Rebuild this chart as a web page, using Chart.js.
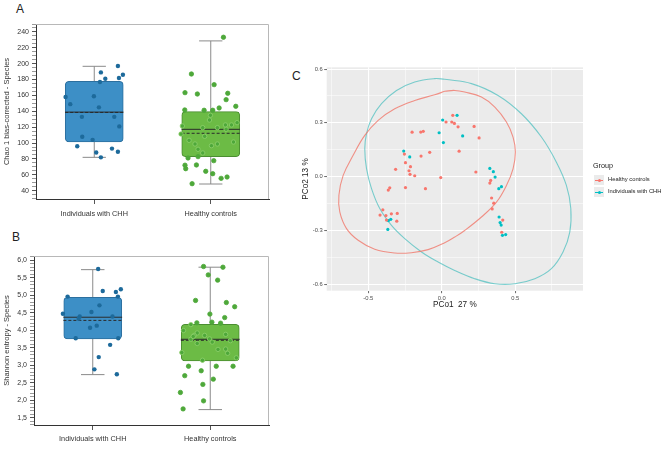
<!DOCTYPE html>
<html>
<head>
<meta charset="utf-8">
<script src="https://cdn.jsdelivr.net/npm/chart.js@4.4.0/dist/chart.umd.min.js"></script>
<style>
  body { margin: 0; width: 669px; height: 473px; position: relative; overflow: hidden; background: #fff;
         font-family: "Liberation Sans", Arial, sans-serif; color: #222; }
  canvas { position: absolute; }
  .txt { position: absolute; white-space: nowrap; line-height: 1; }
  .key { position: absolute; width: 10px; height: 10px; background: #ebebeb; }
  .key i { position: absolute; left: 1px; right: 1px; top: 4.5px; height: 1px; }
  .key b { position: absolute; left: 3.5px; top: 3.5px; width: 3px; height: 3px; border-radius: 50%; }
</style>
</head>
<body>
<div class="txt" style="left:16px;top:3px;font-size:12px">A</div>
<div class="txt" style="left:12px;top:231px;font-size:12px">B</div>
<div class="txt" style="left:292px;top:70px;font-size:12px">C</div>

<canvas id="chartA" width="290" height="235" style="left:0;top:0"></canvas>
<canvas id="chartB" width="290" height="238" style="left:0;top:235px"></canvas>
<canvas id="chartC" width="379" height="265" style="left:290px;top:55px"></canvas>

<div class="txt" style="left:593px;top:162px;font-size:7.2px">Group</div>
<div class="key" style="left:594px;top:175px"><i style="background:#F8766D"></i><b style="background:#F8766D"></b></div>
<div class="txt" style="left:608px;top:177px;font-size:5.8px">Healthy controls</div>
<div class="key" style="left:594px;top:187px"><i style="background:#00BFC4"></i><b style="background:#00BFC4"></b></div>
<div class="txt" style="left:608px;top:189px;font-size:5.8px">Individuals with CHH</div>

<script>
const groups = ["Individuals with CHH", "Healthy controls"];

// Panel A: Chao 1 bias-corrected
const chaoTicks = [40, 60, 80, 100, 120, 140, 160, 180, 200, 220, 240];
const chaoCHH = [158, 149, 133, 108, 96, 104, 88, 82, 145, 159, 177, 189, 181, 197, 186, 182, 133, 121, 93, 89];
const chaoCHHJitter = [-0.246, -0.206, -0.106, -0.103, -0.146, -0.014, 0.017, 0.057, 0.040, -0.003,
                       0.049, 0.057, 0.095, 0.203, 0.246, 0.212, 0.172, 0.215, 0.152, 0.203];
const chaoHC = [233.3, 187, 173.6, 163.5, 161.8, 162.7, 154.7, 146.3, 144.2, 141.7,
                141.3, 141.3, 135, 129, 121.5, 119.4, 119.4, 122.8, 122.8, 125.7,
                117.3, 111.4, 108.5, 103.4, 98.8, 98.8, 96.7, 101.3, 92.1, 87.5,
                81.2, 82.9, 77.8, 72.1, 72.4, 67.7, 64.4, 61.4, 57.2, 55.5, 48.8];
const chaoHCJitter = [0.109, -0.166, 0.029, -0.221, -0.115, 0.146, 0.132, 0.215, 0.072, -0.223,
                      -0.057, 0.017, -0.003, -0.011, -0.244, -0.069, 0.057, 0.126, 0.178, 0.226,
                      0.132, -0.255, -0.052, -0.186, -0.135, 0.057, 0.006, 0.195, -0.109, -0.069,
                      -0.195, -0.109, 0.026, -0.221, -0.123, -0.215, -0.043, 0.017, 0.140, 0.089, -0.160];
// whisker low, q1, median, q3, whisker high, mean
const chaoBoxCHH = [82, 101.3, 139, 177.8, 196.7, 138.5];
const chaoBoxHC = [48.4, 82.9, 117.3, 139.6, 228.7, 112.3];

// Panel B: Shannon entropy
const shanTicks = [1.5, 2.0, 2.5, 3.0, 3.5, 4.0, 4.5, 5.0, 5.5, 6.0];
const shanCHH = [4.47, 4.96, 3.77, 4.39, 4.33, 4.52, 4.07, 4.13, 4.71, 5.75,
                 2.88, 3.23, 5.12, 3.58, 4.39, 5.09, 4.96, 5.17, 3.77, 2.74];
const shanCHHJitter = [-0.254, -0.214, -0.145, -0.111, -0.120, -0.011, -0.023, 0.034, 0.057, 0.046,
                       0.014, 0.051, 0.085, 0.148, 0.168, 0.197, 0.214, 0.239, 0.217, 0.205];
const shanHC = [5.82, 5.80, 5.58, 5.43, 4.85, 4.79, 4.67, 4.46, 4.36, 4.23,
                4.21, 4.20, 4.16, 3.99, 3.92, 3.85, 3.88, 3.85, 3.74, 3.82,
                3.75, 3.66, 3.70, 3.62, 3.45, 3.46, 3.34, 3.36, 3.14, 3.21,
                2.97, 2.97, 2.97, 2.84, 2.70, 2.60, 2.45, 2.22, 1.98, 1.75];
const shanHCJitter = [-0.057, 0.108, -0.017, 0.063, -0.125, 0.137, 0.208, -0.003, 0.123, 0.014,
                      -0.114, 0.088, -0.165, -0.228, -0.111, -0.137, 0.131, -0.048, -0.165, -0.145,
                      -0.006, 0.017, 0.171, -0.111, 0.066, 0.131, 0.148, -0.242, -0.066, 0.222,
                      -0.185, 0.051, 0.194, -0.077, -0.217, 0.026, -0.063, -0.254, -0.057, -0.231];
const shanBoxCHH = [2.73, 3.75, 4.37, 4.94, 5.73, 4.28];
const shanBoxHC = [1.73, 3.12, 3.74, 4.17, 5.80, 3.71];

// Panel C: PCoA
const pcoXTicks = [-0.5, 0, 0.5];
const pcoYTicks = [-0.6, -0.3, 0, 0.3, 0.6];
const pcoHCx = [0.075, 0.029, 0.068, 0.086, 0.111, 0.220, 0.254, 0.118, -0.202, -0.143,
                -0.126, -0.141, -0.082, -0.254, -0.247, -0.314, -0.213, -0.223, -0.216, -0.184,
                -0.247, -0.111, -0.007, -0.354, -0.364, -0.401, -0.420, -0.380, -0.376, -0.343,
                -0.303, -0.306, 0.232, 0.333, 0.327, 0.339, 0.354, 0.343, 0.415, 0.408];
const pcoHCy = [0.342, 0.305, 0.305, 0.297, 0.278, 0.280, 0.216, 0.142, 0.248, 0.249,
                0.253, 0.115, 0.136, 0.126, 0.078, 0.041, 0.056, 0.033, 0.013, 0.005,
                -0.061, -0.067, -0.005, -0.062, -0.075, -0.185, -0.214, -0.217, -0.242, -0.207,
                -0.205, -0.248, 0.026, -0.021, -0.036, -0.119, -0.148, -0.180, -0.242, -0.310];
const pcoCHHx = [0.006, 0.104, 0.142, -0.018, 0.011, -0.259, -0.218, 0.327, 0.351, 0.363,
                 0.388, 0.406, 0.390, 0.397, 0.404, 0.413, 0.435, -0.363, -0.347, -0.367];
const pcoCHHy = [0.316, 0.342, 0.227, 0.245, 0.190, 0.143, 0.110, 0.046, 0.028, -0.002,
                 -0.067, -0.056, -0.225, -0.256, -0.270, -0.327, -0.323, -0.245, -0.238, -0.294];
// ellipse outlines
const ellHCx = [0.020, 0.088, 0.156, 0.270, 0.361, 0.440, 0.485, 0.501, 0.485, 0.440, 0.372, 0.270, 0.156,
                0.088, 0.020, -0.093, -0.206, -0.320, -0.456, -0.569, -0.648, -0.694, -0.700, -0.671,
                -0.603, -0.524, -0.433, -0.320, -0.184, -0.048, 0.020];
const ellHCy = [0.476, 0.481, 0.472, 0.444, 0.388, 0.305, 0.221, 0.137, 0.044, -0.049, -0.142, -0.225, -0.300,
                -0.337, -0.369, -0.407, -0.424, -0.426, -0.405, -0.355, -0.290, -0.197, -0.104, 0.007,
                0.119, 0.230, 0.314, 0.379, 0.425, 0.457, 0.476];
const ellCHHx = [0.020, 0.202, 0.383, 0.542, 0.678, 0.780, 0.848, 0.878, 0.871, 0.825, 0.746, 0.633, 0.497,
                 0.361, 0.224, 0.088, -0.025, -0.138, -0.252, -0.342, -0.422, -0.478, -0.512, -0.524,
                 -0.512, -0.478, -0.410, -0.308, -0.184, -0.048, 0.020];
const ellCHHy = [0.543, 0.519, 0.453, 0.351, 0.221, 0.081, -0.049, -0.178, -0.309, -0.420, -0.513, -0.569, -0.597,
                 -0.597, -0.569, -0.523, -0.476, -0.420, -0.346, -0.272, -0.178, -0.067, 0.045, 0.156,
                 0.240, 0.323, 0.407, 0.481, 0.528, 0.547, 0.543];

Chart.defaults.font.family = '"Liberation Sans", Arial, sans-serif';
Chart.defaults.animation = false;

const boxFill = ["#3d8fc6", "#6cbb45"];
const boxLine = ["#2c6f9e", "#4b8e31"];
const dotFill = ["#1d6a9b", "#4ea83a"];

const framePlugin = {
    id: "frame",
    beforeDatasetsDraw(chart) {
        const a = chart.chartArea, ctx = chart.ctx;
        ctx.save();
        ctx.strokeStyle = "#b8b8b8";
        ctx.lineWidth = 1;
        ctx.beginPath();
        ctx.moveTo(a.left, a.top + 0.5);
        ctx.lineTo(a.right - 0.5, a.top + 0.5);
        ctx.lineTo(a.right - 0.5, a.bottom);
        ctx.stroke();
        ctx.restore();
    }
};

function seg(x1, y1, x2, y2, color, dash, order) {
    return {
        type: "line",
        data: [{x: x1, y: y1}, {x: x2, y: y2}],
        borderColor: color,
        borderWidth: 1,
        borderDash: dash,
        pointRadius: 0,
        fill: false,
        order: order
    };
}

function boxPanel(id, values, jitters, stats, yMin, yMax, minorStep, labels, title, fmt, area) {
    const datasets = [];
    values.forEach((vals, g) => {
        const s = stats[g];
        datasets.push({
            type: "scatter",
            data: vals.map((v, i) => ({x: g + jitters[g][i], y: v})),
            backgroundColor: dotFill[g],
            borderColor: ctx => (g === 1 && ctx.raw && ctx.raw.y > s[1] && ctx.raw.y < s[3]) ? "#8fd06c" : dotFill[g],
            borderWidth: g === 1 ? 0.8 : 0,
            pointRadius: 2.2,
            order: 0
        });
    });
    stats.forEach((s, g) => {
        datasets.push(seg(g - 0.25, s[5], g + 0.25, s[5], "#2b2b2b", [3, 2], 1));
        datasets.push(seg(g - 0.25, s[2], g + 0.25, s[2], "#2b2b2b", [], 2));
        datasets.push(seg(g, s[0], g, s[4], "#8a8a8a", [], 4));
        datasets.push(seg(g - 0.1, s[0], g + 0.1, s[0], "#8a8a8a", [], 4));
        datasets.push(seg(g - 0.1, s[4], g + 0.1, s[4], "#8a8a8a", [], 4));
    });
    datasets.push({
        type: "bar",
        data: stats.map((s, g) => ({x: g, y: [s[1], s[3]]})),
        backgroundColor: boxFill,
        borderColor: boxLine,
        borderWidth: 1,
        borderRadius: 4,
        borderSkipped: false,
        barThickness: 58,
        order: 3
    });

    const isLabel = v => labels.some(t => Math.abs(t - v) < 1e-9);

    new Chart(document.getElementById(id), {
        type: "bar",
        data: {datasets: datasets},
        options: {
            responsive: false,
            layout: {padding: {top: area.top, right: area.right, left: 0, bottom: 0}},
            plugins: {legend: {display: false}, tooltip: {enabled: false}},
            scales: {
                x: {
                    type: "linear",
                    min: -0.5,
                    max: 1.5,
                    offset: false,
                    afterBuildTicks: s => { s.ticks = groups.map((_, i) => ({value: i})); },
                    afterFit: s => { s.height = area.xh; },
                    ticks: {
                        callback: v => groups[v],
                        autoSkip: false,
                        maxRotation: 0,
                        color: "#333",
                        font: {size: 7.3},
                        padding: area.xpad
                    },
                    grid: {drawOnChartArea: false, offset: false, tickLength: 5, color: "#555"},
                    border: {display: true, color: "#333", width: 1}
                },
                y: {
                    type: "linear",
                    min: yMin,
                    max: yMax,
                    afterBuildTicks: s => {
                        const t = [];
                        for (let k = Math.ceil(yMin / minorStep); k * minorStep <= yMax + 1e-9; k++) {
                            t.push({value: +(k * minorStep).toFixed(4)});
                        }
                        s.ticks = t;
                    },
                    afterFit: s => { s.width = area.yw; },
                    ticks: {
                        callback: v => isLabel(v) ? fmt(v) : "",
                        autoSkip: false,
                        color: "#333",
                        font: {size: 7},
                        padding: 3
                    },
                    grid: {
                        drawOnChartArea: false,
                        tickLength: 4,
                        color: "#555",
                        tickWidth: ctx => isLabel(ctx.tick.value) ? 1 : 0.6
                    },
                    border: {display: true, color: "#333", width: 1},
                    title: {display: true, text: title, color: "#333", font: {size: 7.5}, padding: {top: 2.5, bottom: 0}}
                }
            }
        },
        plugins: [framePlugin]
    });
}

boxPanel("chartA", [chaoCHH, chaoHC], [chaoCHHJitter, chaoHCJitter], [chaoBoxCHH, chaoBoxHC],
    29.5, 250, 5, chaoTicks, "Chao 1 bias-corrected - Species", v => String(v),
    {top: 24, right: 21, xh: 36, yw: 36, xpad: 6});

boxPanel("chartB", [shanCHH, shanHC], [shanCHHJitter, shanHCJitter], [shanBoxCHH, shanBoxHC],
    1.29, 6.12, 0.1, shanTicks, "Shannon entropy - Species", v => v.toFixed(1).replace(".", ","),
    {top: 21, right: 21, xh: 48, yw: 34, xpad: 5});

// ---- Panel C ----
const panelBg = {
    id: "panelBg",
    beforeDraw(chart) {
        const a = chart.chartArea, ctx = chart.ctx;
        ctx.save();
        ctx.fillStyle = "#ebebeb";
        ctx.fillRect(a.left, a.top, a.right - a.left, a.bottom - a.top);
        ctx.restore();
    }
};

const zip = (xs, ys) => xs.map((x, i) => ({x: x, y: ys[i]}));
const near = (list, v) => list.some(t => Math.abs(t - v) < 1e-9);
const withMinor = list => {
    const out = [];
    list.forEach((t, i) => {
        if (i === 0) out.push(t - (list[1] - list[0]) / 2);
        out.push(t);
        out.push(i < list.length - 1 ? (t + list[i + 1]) / 2 : t + (t - list[i - 1]) / 2);
    });
    return out;
};

function pcoAxis(majors, min, max, fit, title) {
    return {
        type: "linear",
        min: min,
        max: max,
        afterBuildTicks: s => {
            s.ticks = withMinor(majors).filter(v => v > min && v < max).map(v => ({value: v}));
        },
        afterFit: fit,
        ticks: {
            callback: v => near(majors, v) ? v.toFixed(1) : "",
            autoSkip: false,
            maxRotation: 0,
            color: "#4d4d4d",
            font: {size: 5.8},
            padding: 1.5
        },
        grid: {
            color: "#ffffff",
            lineWidth: ctx => near(majors, ctx.tick.value) ? 1.1 : 0.5,
            tickLength: 2.5,
            tickColor: ctx => near(majors, ctx.tick.value) ? "#444" : "rgba(0,0,0,0)",
            tickWidth: 0.8
        },
        border: {display: false},
        title: title
    };
}

new Chart(document.getElementById("chartC"), {
    type: "scatter",
    data: {
        datasets: [
            {data: zip(pcoHCx, pcoHCy), backgroundColor: "#F8766D", borderWidth: 0, pointRadius: 1.6, order: 0},
            {data: zip(pcoCHHx, pcoCHHy), backgroundColor: "#00BFC4", borderWidth: 0, pointRadius: 1.6, order: 0},
            {data: zip(ellHCx, ellHCy), showLine: true, tension: 0.4, pointRadius: 0,
             borderColor: "rgba(240,120,108,0.8)", borderWidth: 1.1, fill: false, order: 1},
            {data: zip(ellCHHx, ellCHHy), showLine: true, tension: 0.4, pointRadius: 0,
             borderColor: "rgba(70,190,190,0.7)", borderWidth: 1.1, fill: false, order: 1}
        ]
    },
    options: {
        responsive: false,
        layout: {padding: {top: 12.3, right: 86, left: 0, bottom: 0}},
        plugins: {legend: {display: false}, tooltip: {enabled: false}},
        scales: {
            x: pcoAxis(pcoXTicks, -0.783, 0.961, s => { s.height = 29.3; },
                {display: true, text: "PCo1  27 %", color: "#222", font: {size: 8.2}, padding: {top: 0, bottom: 10}}),
            y: pcoAxis(pcoYTicks, -0.636, 0.61, s => { s.width = 36.7; },
                {display: true, text: "PCo2 13 %", color: "#222", font: {size: 8.2}, padding: {top: 11, bottom: 0}})
        }
    },
    plugins: [panelBg]
});
</script>
</body>
</html>
